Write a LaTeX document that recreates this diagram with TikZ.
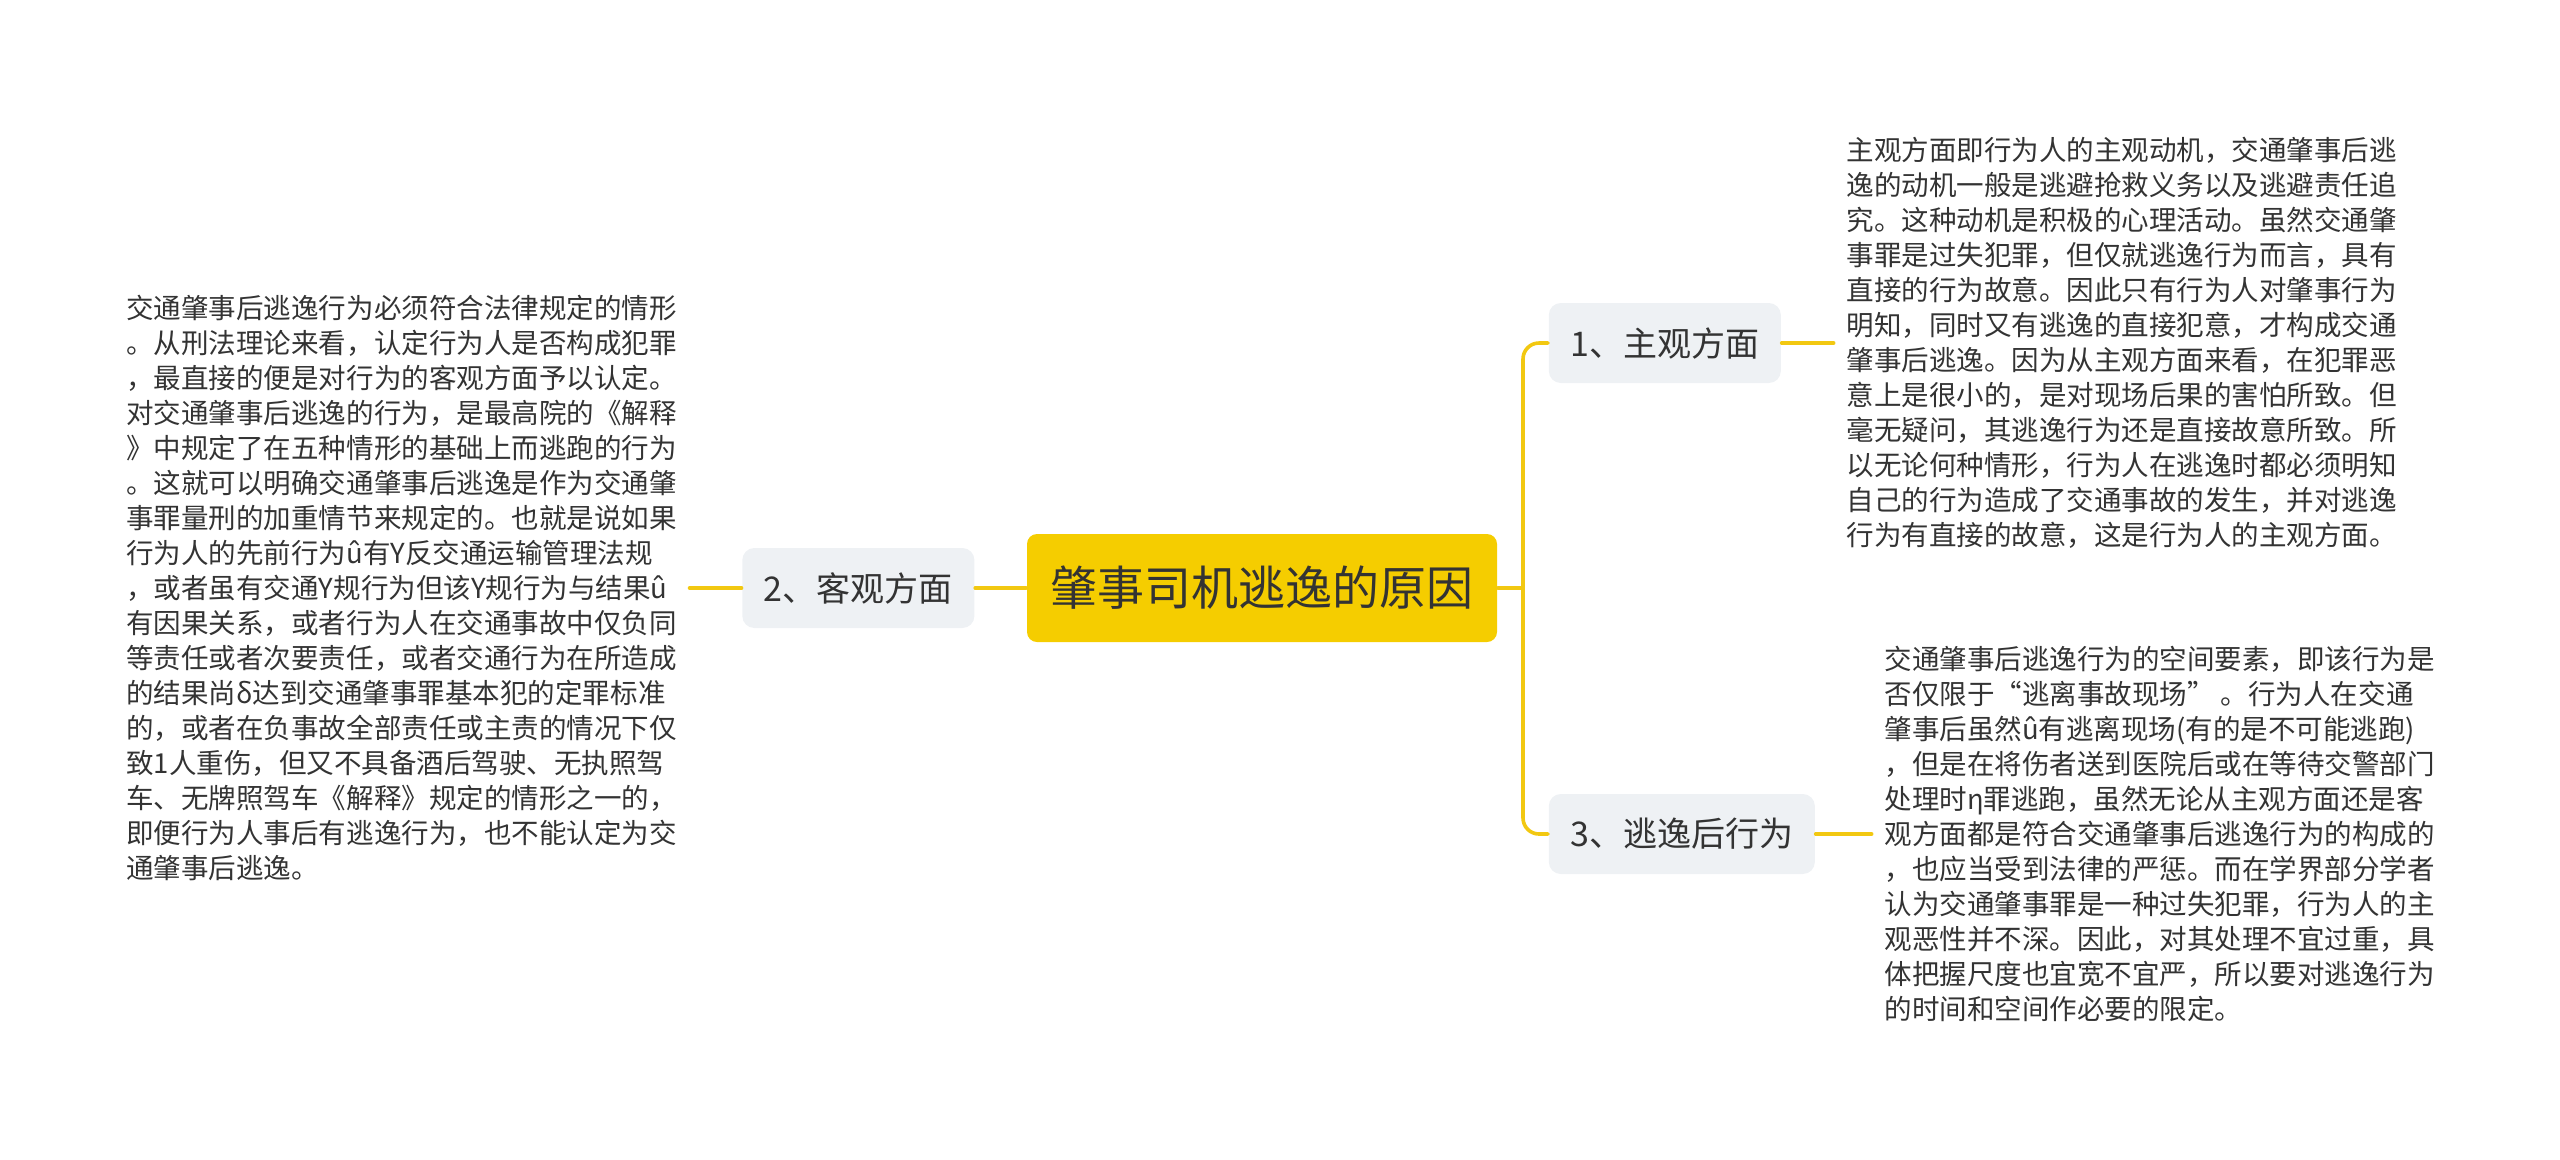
\documentclass[tikz,border=0pt]{standalone}
\usepackage{fontspec}
\newfontfamily\cjk{Noto Sans CJK SC}
\usetikzlibrary{positioning}
\definecolor{rootyellow}{HTML}{F5CD00}
\definecolor{linkyellow}{HTML}{F2C811}
\definecolor{topicgray}{HTML}{EEF1F4}
\definecolor{inkgray}{HTML}{333333}
\tikzset{
  every picture/.style={line join=round, line cap=round},
  rootbox/.style={fill=rootyellow, rounded corners=2.5pt, minimum width=117.5pt, minimum height=27pt, text=inkgray, font=\cjk\fontsize{11.75pt}{14pt}\selectfont},
  topicbox/.style={fill=topicgray, rounded corners=3pt, minimum height=20pt, inner xsep=5.4pt, text=inkgray, font=\cjk\fontsize{8.5pt}{10pt}\selectfont},
  notetext/.style={align=left, inner xsep=3pt, inner ysep=0pt, text=inkgray, font=\cjk\fontsize{6.88pt}{8.75pt}\selectfont},
  link/.style={draw=linkyellow, line width=0.9pt},
}

\begin{document}
\begin{tikzpicture}[x=0.25pt,y=-0.25pt]
\useasboundingbox (0,0) rectangle (2560,1159);
% centre and main branches
\node[rootbox] (root) at (1262,588) {肇事司机逃逸的原因};
\node[topicbox, left=12.75pt of root] (objective) {2、客观方面};
\node[topicbox, anchor=west] (subjective) at (1548,343) {1、主观方面};
\node[topicbox, anchor=west] (afterward) at (1548,834) {3、逃逸后行为};
\coordinate (fork) at (1523,588);
% notes
\node[notetext, left=13pt of objective] (objnote) {交通肇事后逃逸行为必须符合法律规定的情形\\
。从刑法理论来看，认定行为人是否构成犯罪\\
，最直接的便是对行为的客观方面予以认定。\\
对交通肇事后逃逸的行为，是最高院的《解释\\
》中规定了在五种情形的基础上而逃跑的行为\\
。这就可以明确交通肇事后逃逸是作为交通肇\\
事罪量刑的加重情节来规定的。也就是说如果\\
行为人的先前行为û有Y反交通运输管理法规\\
，或者虽有交通Y规行为但该Y规行为与结果û\\
有因果关系，或者行为人在交通事故中仅负同\\
等责任或者次要责任，或者交通行为在所造成\\
的结果尚δ达到交通肇事罪基本犯的定罪标准\\
的，或者在负事故全部责任或主责的情况下仅\\
致1人重伤，但又不具备酒后驾驶、无执照驾\\
车、无牌照驾车《解释》规定的情形之一的，\\
即便行为人事后有逃逸行为，也不能认定为交\\
通肇事后逃逸。};
\node[notetext, right=13pt of subjective] (subjnote) {主观方面即行为人的主观动机，交通肇事后逃\\
逸的动机一般是逃避抢救义务以及逃避责任追\\
究。这种动机是积极的心理活动。虽然交通肇\\
事罪是过失犯罪，但仅就逃逸行为而言，具有\\
直接的行为故意。因此只有行为人对肇事行为\\
明知，同时又有逃逸的直接犯意，才构成交通\\
肇事后逃逸。因为从主观方面来看，在犯罪恶\\
意上是很小的，是对现场后果的害怕所致。但\\
毫无疑问，其逃逸行为还是直接故意所致。所\\
以无论何种情形，行为人在逃逸时都必须明知\\
自己的行为造成了交通事故的发生，并对逃逸\\
行为有直接的故意，这是行为人的主观方面。};
\node[notetext, right=14pt of afterward] (afternote) {交通肇事后逃逸行为的空间要素，即该行为是\\
否仅限于“逃离事故现场” 。行为人在交通\\
肇事后虽然û有逃离现场(有的是不可能逃跑)\\
，但是在将伤者送到医院后或在等待交警部门\\
处理时η罪逃跑，虽然无论从主观方面还是客\\
观方面都是符合交通肇事后逃逸行为的构成的\\
，也应当受到法律的严惩。而在学界部分学者\\
认为交通肇事罪是一种过失犯罪，行为人的主\\
观恶性并不深。因此，对其处理不宜过重，具\\
体把握尺度也宜宽不宜严，所以要对逃逸行为\\
的时间和空间作必要的限定。};
% connectors
\draw[link] (root.west) -- (objective.east);
\draw[link] (objective.west) -- (objnote.east);
\draw[link] (root.east) -- (fork);
\draw[link, rounded corners=4pt] (fork) |- (subjective.west);
\draw[link, rounded corners=4pt] (fork) |- (afterward.west);
\draw[link] (subjective.east) -- (subjnote.west);
\draw[link] (afterward.east) -- (afternote.west);
\end{tikzpicture}
\end{document}
